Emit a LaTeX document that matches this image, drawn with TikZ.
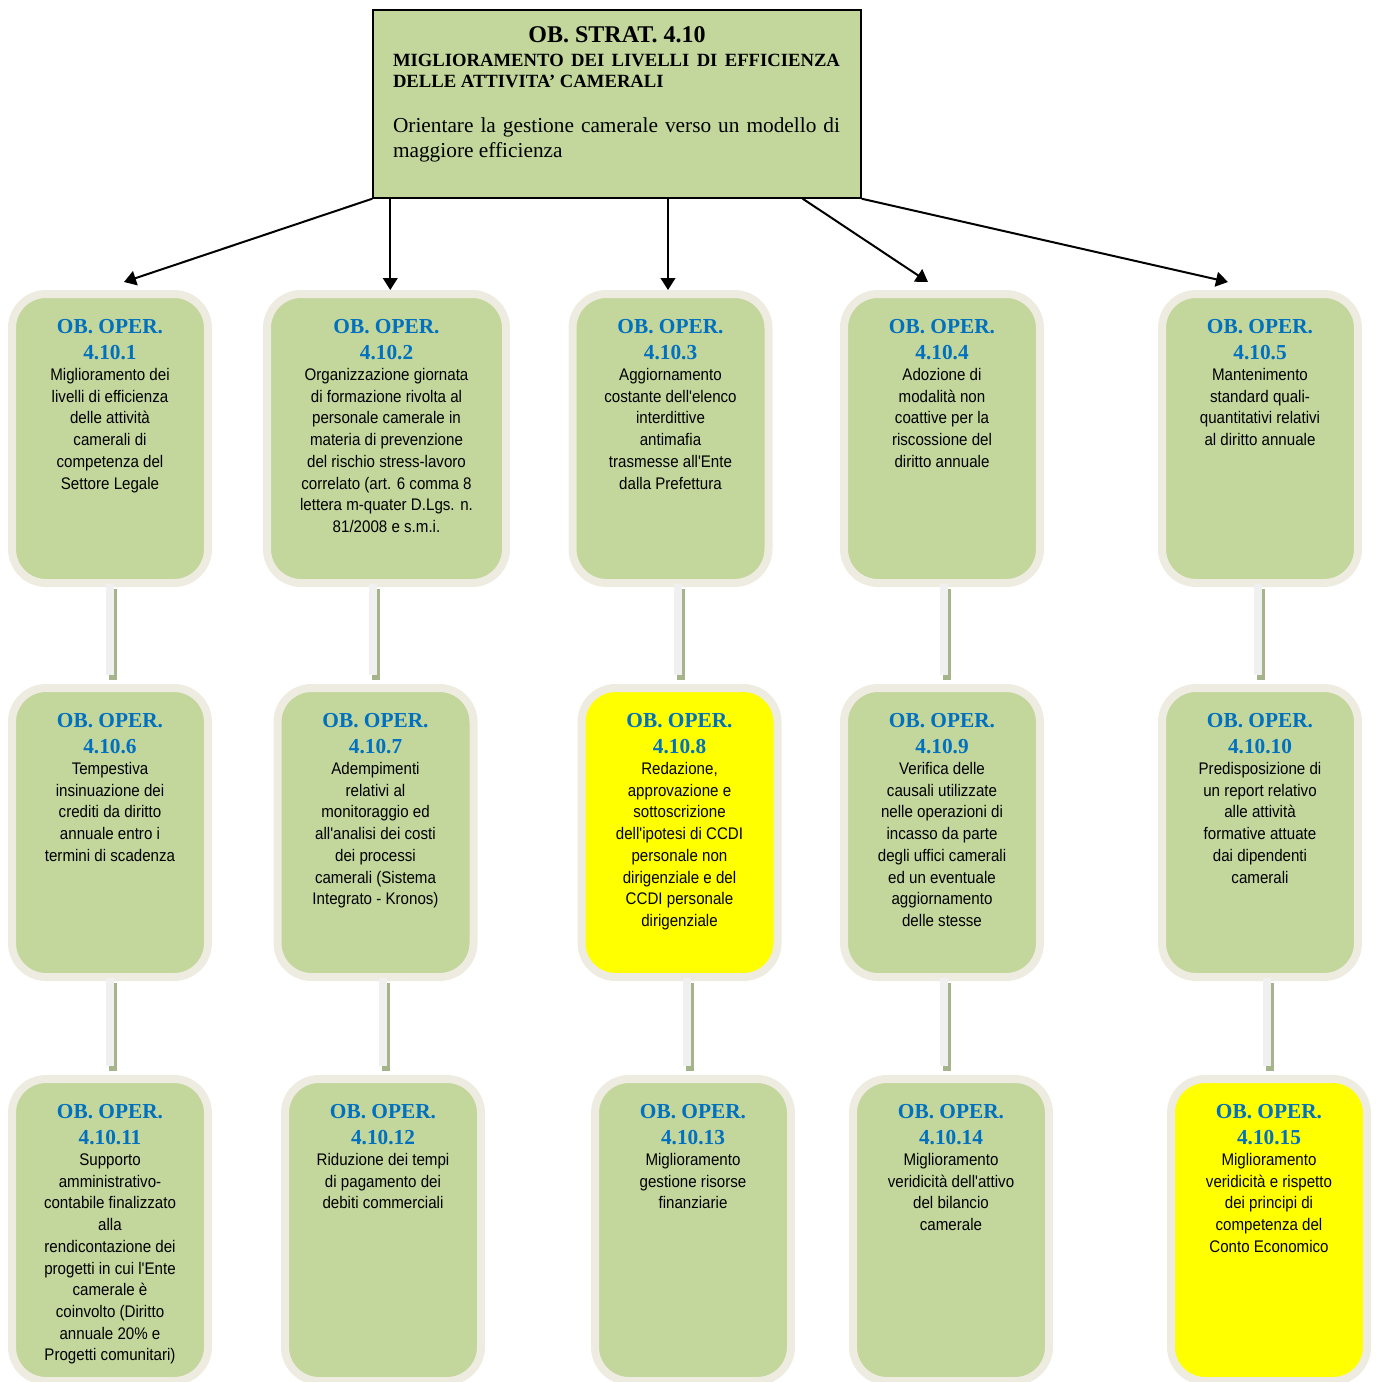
\documentclass[tikz,border=0pt]{standalone}
\usepackage{fontspec}
\usetikzlibrary{arrows.meta,calc}

\newfontfamily\serifface{Liberation Serif}
\newfontfamily\narrowface{Liberation Sans}[FakeStretch=0.9]

\definecolor{opgreen}{HTML}{C3D69B}
\definecolor{opframe}{HTML}{EEECE1}
\definecolor{opyellow}{HTML}{FFFF00}
\definecolor{opblue}{HTML}{0070C0}
\definecolor{barlightcol}{HTML}{F0F0F0}
\definecolor{barshadecol}{HTML}{A6B48C}

% text of an operational objective: width, height, number, description
\newcommand\opcontent[4]{%
  \begin{minipage}[c][#2][t]{#1}\centering
    \rule{0pt}{29.25pt}{\serifface\bfseries\fontsize{16}{19.5}\selectfont\color{opblue}OB. OPER.\\#3\par}
    \vspace{-0.3pt}
    {\narrowface\fontsize{12.6}{16.3}\selectfont #4\par}
  \end{minipage}}

% vertical link between two stacked objectives
\newcommand\linkbar[3]{%
  \draw[barshade] ($(#2.north |- #1.south)+(#3+3,2)$) -- ($(#2.north)+(#3+3,-4)$);
  \draw[barlight] ($(#2.north |- #1.south)+(#3,-3)$) -- ($(#2.north)+(#3,-9)$);
}

\tikzset{
  stratbox/.style={draw=black, line width=1.1pt, fill=opgreen, inner sep=0pt},
  opbox/.style={draw=opframe, line width=6pt, fill=opgreen, rounded corners=25.5pt, inner sep=0pt},
  hlbox/.style={opbox, fill=opyellow},
  arr/.style={-{Triangle[width=11pt,length=9pt]}, line width=1.5pt, black},
  barlight/.style={draw=barlightcol, line width=6pt},
  barshade/.style={draw=barshadecol, line width=6pt},
}

\begin{document}
\begin{tikzpicture}[x=0.75pt, y=-0.75pt]
\useasboundingbox (0,0) rectangle (1376,1382);

% strategic objective
\node[stratbox] (top) at (617,104) {%
  \begin{minipage}[c][141pt][t]{366pt}
    {\centering\serifface\bfseries\fontsize{18}{18}\selectfont\rule{0pt}{24pt}OB. STRAT. 4.10\par}
    \vspace{2.25pt}
    {\leftskip=15pt \rightskip=15.75pt \parfillskip=0pt plus 1fil
     \serifface\bfseries\fontsize{14}{15.75}\selectfont
     MIGLIORAMENTO DEI LIVELLI DI EFFICIENZA\linebreak DELLE ATTIVITA’ CAMERALI\par}
    \vspace{15pt}
    {\leftskip=15pt \rightskip=15.75pt \parfillskip=0pt plus 1fil
     \serifface\fontsize{16}{18.75}\selectfont
     Orientare la gestione camerale verso un modello di\linebreak maggiore efficienza\par}
  \end{minipage}};

% first row
\node[opbox] (n1) at (110,438.5) {\opcontent{147pt}{216.75pt}{4.10.1}{Miglioramento dei\\livelli di efficienza\\delle attività\\camerali di\\competenza del\\Settore Legale}};
\node[opbox] (n2) at (386.5,438.5) {\opcontent{179.25pt}{216.75pt}{4.10.2}{Organizzazione giornata\\di formazione rivolta al\\personale camerale in\\materia di prevenzione\\del rischio stress-lavoro\\correlato (art. 6 comma 8\\lettera m-quater D.Lgs. n.\\81/2008 e s.m.i.}};
\node[opbox] (n3) at (670.5,438.5) {\opcontent{147pt}{216.75pt}{4.10.3}{Aggiornamento\\costante dell'elenco\\interdittive\\antimafia\\trasmesse all'Ente\\dalla Prefettura}};
\node[opbox] (n4) at (942,438.5) {\opcontent{147pt}{216.75pt}{4.10.4}{Adozione di\\modalità non\\coattive per la\\riscossione del\\diritto annuale}};
\node[opbox] (n5) at (1260,438.5) {\opcontent{147pt}{216.75pt}{4.10.5}{Mantenimento\\standard quali-\\quantitativi relativi\\al diritto annuale}};

% second row
\node[opbox] (n6) at (110,832.5) {\opcontent{147pt}{216.75pt}{4.10.6}{Tempestiva\\insinuazione dei\\crediti da diritto\\annuale entro i\\termini di scadenza}};
\node[opbox] (n7) at (375.5,832.5) {\opcontent{147pt}{216.75pt}{4.10.7}{Adempimenti\\relativi al\\monitoraggio ed\\all'analisi dei costi\\dei processi\\camerali (Sistema\\Integrato - Kronos)}};
\node[hlbox] (n8) at (679.5,832.5) {\opcontent{147pt}{216.75pt}{4.10.8}{Redazione,\\approvazione e\\sottoscrizione\\dell'ipotesi di CCDI\\personale non\\dirigenziale e del\\CCDI personale\\dirigenziale}};
\node[opbox] (n9) at (942,832.5) {\opcontent{147pt}{216.75pt}{4.10.9}{Verifica delle\\causali utilizzate\\nelle operazioni di\\incasso da parte\\degli uffici camerali\\ed un eventuale\\aggiornamento\\delle stesse}};
\node[opbox] (n10) at (1260,832.5) {\opcontent{147pt}{216.75pt}{4.10.10}{Predisposizione di\\un report relativo\\alle attività\\formative attuate\\dai dipendenti\\camerali}};

% third row
\node[opbox] (n11) at (110,1230) {\opcontent{147pt}{226.5pt}{4.10.11}{Supporto\\amministrativo-\\contabile finalizzato\\alla\\rendicontazione dei\\progetti in cui l'Ente\\camerale è\\coinvolto (Diritto\\annuale 20\% e\\Progetti comunitari)}};
\node[opbox] (n12) at (383,1230) {\opcontent{147pt}{226.5pt}{4.10.12}{Riduzione dei tempi\\di pagamento dei\\debiti commerciali}};
\node[opbox] (n13) at (693,1230) {\opcontent{147pt}{226.5pt}{4.10.13}{Miglioramento\\gestione risorse\\finanziarie}};
\node[opbox] (n14) at (951,1230) {\opcontent{147pt}{226.5pt}{4.10.14}{Miglioramento\\veridicità dell'attivo\\del bilancio\\camerale}};
\node[hlbox] (n15) at (1269,1230) {\opcontent{147pt}{226.5pt}{4.10.15}{Miglioramento\\veridicità e rispetto\\dei principi di\\competenza del\\Conto Economico}};

% arrows from the strategic objective
\coordinate (t2) at ($(top.south west)+(18,0)$);
\coordinate (t3) at ($(top.south)+(51,0)$);
\coordinate (t4) at ($(top.south east)+(-59,0)$);
\draw[arr] (top.south west) -- ($(n1.north)+(14,-8)$);
\draw[arr] (t2) -- (t2 |- n2.north);
\draw[arr] (t3) -- (t3 |- n3.north);
\draw[arr] (t4) -- ($(n4.north)+(-14,-8)$);
\draw[arr] (top.south east) -- ($(n5.north)+(-32,-8)$);

% vertical links
\linkbar{n1}{n6}{0}
\linkbar{n2}{n7}{-2.5}
\linkbar{n3}{n8}{-1.5}
\linkbar{n4}{n9}{2}
\linkbar{n5}{n10}{-2}
\linkbar{n6}{n11}{0}
\linkbar{n7}{n12}{0}
\linkbar{n8}{n13}{-6}
\linkbar{n9}{n14}{-7}
\linkbar{n10}{n15}{-2}
\end{tikzpicture}
\end{document}
